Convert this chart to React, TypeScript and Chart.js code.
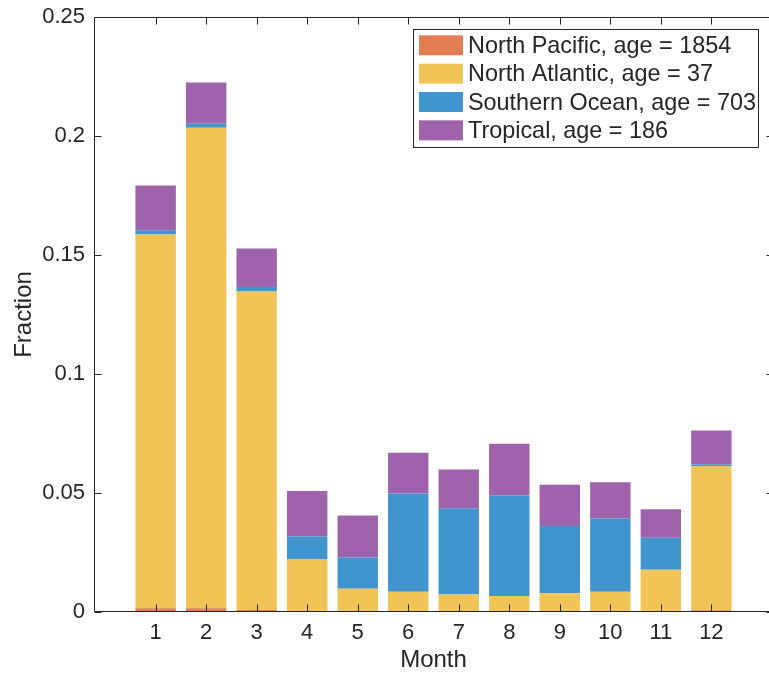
import React, { useEffect, useRef } from 'react';
import { Chart, registerables } from 'chart.js';

Chart.register(...registerables);

const months = [1, 2, 3, 4, 5, 6, 7, 8, 9, 10, 11, 12];
const northPacific = [0.0016, 0.0016, 0.0008, 0.0001, 0.0001, 0.0001, 0.0001, 0.0001, 0.0001, 0.0001, 0.0001, 0.0007];
const northAtlantic = [0.157, 0.2019, 0.1339, 0.022, 0.0097, 0.0084, 0.0073, 0.0066, 0.0078, 0.0084, 0.0176, 0.0606];
const southernOcean = [0.0018, 0.0016, 0.0019, 0.0096, 0.0131, 0.0413, 0.0361, 0.0422, 0.0282, 0.0308, 0.0135, 0.0007];
const tropical = [0.0188, 0.0174, 0.0161, 0.0191, 0.0176, 0.0171, 0.0164, 0.0218, 0.0174, 0.0152, 0.012, 0.0143];
const seriesLabels = [
  'North Pacific, age = 1854',
  'North Atlantic, age = 37',
  'Southern Ocean, age = 703',
  'Tropical, age = 186',
];
const seriesColors = ['rgb(227,126,83)', 'rgb(241,196,88)', 'rgb(64,149,206)', 'rgb(158,99,170)'];
const yTickValues = [0, 0.05, 0.1, 0.15, 0.2, 0.25];
const xTitle = 'Month';
const yTitle = 'Fraction';

const FONT = '"Liberation Sans", Arial, Helvetica, sans-serif';
const INK = '#262626';

const matlabAxes = {
  id: 'matlabAxes',
  afterDatasetsDraw(chart: any) {
    const { ctx, chartArea: a, scales } = chart;
    const xs = scales.x;
    const ys = scales.y;
    ctx.save();
    ctx.strokeStyle = INK;
    ctx.lineWidth = 1;
    const L = Math.round(a.left) + 0.5;
    const R = Math.round(a.right) + 0.5;
    const T = Math.round(a.top) + 0.5;
    const B = Math.round(a.bottom) - 0.5;
    ctx.beginPath();
    ctx.rect(L, T, R - L, B - T);
    ctx.stroke();
    const tl = 7;
    ctx.beginPath();
    xs.ticks.forEach((t: any) => {
      const px = Math.round(xs.getPixelForValue(t.value)) + 0.5;
      ctx.moveTo(px, B);
      ctx.lineTo(px, B - tl);
      ctx.moveTo(px, T);
      ctx.lineTo(px, T + tl);
    });
    ys.ticks.forEach((t: any) => {
      const py = Math.round(ys.getPixelForValue(t.value)) + 0.5;
      ctx.moveTo(L, py);
      ctx.lineTo(L + tl, py);
      ctx.moveTo(R, py);
      ctx.lineTo(R - tl, py);
    });
    ctx.stroke();
    ctx.restore();
  },
  afterDraw(chart: any) {
    const { ctx } = chart;
    ctx.save();
    const bx = 413.5, by = 29.5, bw = 345, bh = 118;
    ctx.fillStyle = '#ffffff';
    ctx.fillRect(bx, by, bw, bh);
    ctx.strokeStyle = INK;
    ctx.lineWidth = 1;
    ctx.strokeRect(bx, by, bw, bh);
    ctx.font = `23.4px ${FONT}`;
    ctx.textBaseline = 'middle';
    ctx.textAlign = 'left';
    chart.data.datasets.forEach((ds: any, i: number) => {
      const cy = 45.3 + i * 28.35;
      ctx.fillStyle = ds.backgroundColor;
      ctx.fillRect(419, cy - 10, 44, 20);
      ctx.fillStyle = INK;
      ctx.fillText(ds.label, 468, cy + 1.2);
    });
    ctx.restore();
  },
};

export default function App() {
  const ref = useRef<HTMLCanvasElement | null>(null);

  useEffect(() => {
    if (!ref.current) return;
    const series = [northPacific, northAtlantic, southernOcean, tropical];
    const chart = new Chart(ref.current, {
      type: 'bar',
      data: {
        labels: months,
        datasets: series.map((d, i) => ({
          label: seriesLabels[i],
          data: d,
          backgroundColor: seriesColors[i],
          borderWidth: 0,
          stack: 'months',
          categoryPercentage: 0.8,
          barPercentage: 1.0,
        })),
      },
      options: {
        animation: false,
        responsive: false,
        devicePixelRatio: 1,
        layout: { padding: { left: 0, right: 7, top: 17, bottom: 0 } },
        plugins: {
          legend: { display: false },
          tooltip: { enabled: false },
        },
        scales: {
          x: {
            type: 'linear',
            offset: false,
            min: -0.22,
            max: 13.22,
            grid: { display: false, drawTicks: false, offset: false },
            border: { display: false },
            afterBuildTicks: (s: any) => {
              s.ticks = months.map((v) => ({ value: v }));
            },
            afterFit: (s: any) => {
              s.height = 63;
              s.paddingLeft = 0;
              s.paddingRight = 0;
              s.paddingTop = 0;
              s.paddingBottom = 0;
            },
            ticks: {
              font: { family: FONT, size: 22 },
              color: INK,
              padding: 8,
              maxRotation: 0,
              autoSkip: false,
              callback: (v: any) => String(v),
            },
            title: {
              display: true,
              text: xTitle,
              font: { family: FONT, size: 24 },
              color: INK,
              padding: { top: 0, bottom: 0 },
            },
          },
          y: {
            type: 'linear',
            stacked: true,
            min: 0,
            max: 0.25,
            grid: { display: false, drawTicks: false },
            border: { display: false },
            afterBuildTicks: (s: any) => {
              s.ticks = yTickValues.map((v) => ({ value: v }));
            },
            afterFit: (s: any) => {
              s.width = 94;
              s.paddingLeft = 0;
              s.paddingRight = 0;
              s.paddingTop = 0;
              s.paddingBottom = 0;
            },
            ticks: {
              font: { family: FONT, size: 22 },
              color: INK,
              padding: 9,
              callback: (v: any) => String(Number(Number(v).toFixed(2))),
            },
            title: {
              display: true,
              text: yTitle,
              font: { family: FONT, size: 24 },
              color: INK,
              padding: { top: 10, bottom: 0 },
            },
          },
        },
      } as any,
      plugins: [matlabAxes],
    });
    return () => chart.destroy();
  }, []);

  return (
    <div
      style={{
        position: 'fixed',
        left: 0,
        top: 0,
        width: 769,
        height: 675,
        overflow: 'hidden',
        background: '#ffffff',
      }}
    >
      <canvas ref={ref} width={780} height={675} style={{ display: 'block' }} />
    </div>
  );
}
